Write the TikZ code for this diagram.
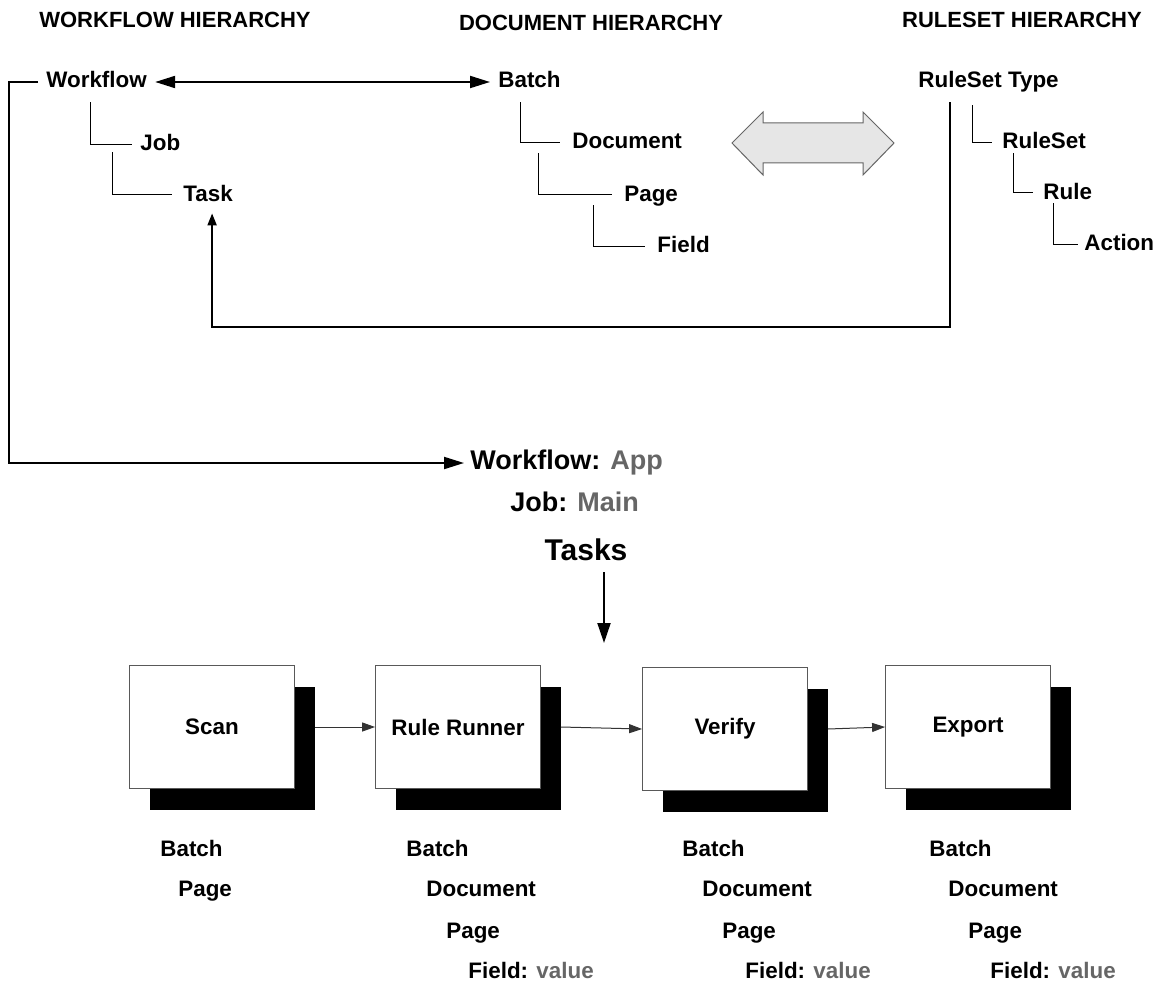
\documentclass[tikz,border=0pt]{standalone}
\usepackage{fontspec}
\setmainfont{Liberation Sans}
\usetikzlibrary{arrows.meta,shadows}
\definecolor{valgray}{HTML}{666666}
\definecolor{arrowfill}{HTML}{E6E6E6}
\newcommand{\val}[1]{\textcolor{valgray}{#1}}

\begin{document}
\begin{tikzpicture}[x=0.5pt,y=-0.5pt,
    head/.style={inner sep=0pt,font=\fontsize{11}{13}\selectfont\bfseries},
    item/.style={anchor=west,inner sep=0pt,text height=8pt,text depth=2pt,
      font=\fontsize{11.2}{13}\selectfont\bfseries},
    big/.style={anchor=west,inner sep=0pt,font=\fontsize{13.5}{16}\selectfont\bfseries},
    tree/.style={line width=0.5pt},
    link/.style={line width=1pt},
    task/.style={draw=black!65,fill=white,minimum width=82.5pt,minimum height=61.5pt,
      inner sep=0pt,font=\fontsize{11.2}{13}\selectfont\bfseries,
      general shadow={fill=black,shadow xshift=10pt,shadow yshift=-10.5pt}},
    flow/.style={line width=0.5pt,draw=black!80,-{Triangle[length=6.5pt,width=4.5pt]}}]
  \useasboundingbox (0,0) rectangle (1165,984);

  % headings
  \node[head] (hwf) at (175,20) {WORKFLOW HIERARCHY};
  \node[head] (hdoc) at (591,23) {DOCUMENT HIERARCHY};
  \node[head] (hrs) at (1022,20) {RULESET HIERARCHY};

  % workflow tree
  \node[item] (wf) at (46,82) {Workflow};
  \node[item] (job) at (140,145) {Job};
  \node[item] (task) at (183,195) {Task};
  \draw[tree] ([xshift=22pt,yshift=-5pt]wf.south west) |- ([xshift=-4pt]job.west);
  \draw[tree] ([xshift=-14pt,yshift=1.5pt]job.south west) |- ([xshift=-5.5pt]task.west);

  % document tree
  \node[item] (batch) at (498,82) {Batch};
  \node[item] (doc) at (572,143) {Document};
  \node[item] (page) at (624,195) {Page};
  \node[item] (field) at (657,246) {Field};
  \draw[tree] ([xshift=11pt,yshift=-5pt]batch.south west) |- ([xshift=-6pt]doc.west);
  \draw[tree] ([xshift=-17pt]doc.south west) |- ([xshift=-6pt]page.west);
  \draw[tree] ([xshift=-15.5pt]page.south west) |- ([xshift=-6pt]field.west);

  % ruleset tree
  \node[item] (rst) at (918,82) {RuleSet Type};
  \node[item] (rs) at (1002,143) {RuleSet};
  \node[item] (rule) at (1043,193) {Rule};
  \node[item] (act) at (1084,244) {Action};
  \draw[tree] ([xshift=27pt,yshift=-6.5pt]rst.south west) |- ([xshift=-5pt]rs.west);
  \draw[tree] ([xshift=5.5pt]rs.south west) |- ([xshift=-5pt]rule.west);
  \draw[tree] ([xshift=5pt]rule.south west) |- ([xshift=-3pt]act.west);

  \draw[link,{Triangle[length=10pt,width=6pt]}-{Triangle[length=10pt,width=6pt]}]
    ([xshift=4pt]wf.east) -- ([xshift=-4pt]batch.west);

  % hierarchies map onto each other
  \draw[black!60,fill=arrowfill,line width=0.5pt]
    (732,143) -- (763,112) -- (763,123) -- (863,123) -- (863,112) -- (894,143)
    -- (863,175) -- (863,163) -- (763,163) -- (763,175) -- cycle;

  \coordinate (rsbend) at (950,327);
  \draw[link,-{Triangle[length=6pt,width=4.5pt]}]
    ([xshift=16pt,yshift=-5pt]rst.south west) |- (rsbend) -| ([xshift=2pt,yshift=-4pt]task.south);

  % running application
  \node[big] (app) at (470,463) {Workflow: \val{App}};
  \node[big] (main) at (510,502) {Job: \val{Main}};
  \node[inner sep=5.5pt,text depth=0pt,font=\fontsize{15}{18}\selectfont\bfseries] (tasks) at (586,550) {Tasks};

  \coordinate (wfbend) at (9,463);
  \draw[link,-{Triangle[length=10pt,width=6pt]}]
    ([xshift=-4pt]wf.west) -| (wfbend) -- ([xshift=-3pt]app.west);

  \coordinate (tasktip) at (604,643);
  \draw[link,-{Triangle[length=10pt,width=6.5pt]}] (tasks.south -| tasktip) -- (tasktip);

  \node[task] (scan) at (212,727) {Scan};
  \node[task] (rr) at (458,727) {Rule Runner};
  \node[task] (ver) at (725,729) {Verify};
  \node[task] (exp) at (968,727) {Export};
  \draw[flow] ([xshift=10pt]scan.east) -- (rr.west);
  \draw[flow] ([xshift=10pt]rr.east) -- (ver.west);
  \draw[flow] ([xshift=10pt]ver.east) -- (exp.west);

  % data each task sees
  \node[item] (sbatch) at (160,850) {Batch};
  \node[item] (spage) at (178,890) {Page};

  \node[item] (rbatch) at (406,850) {Batch};
  \node[item] (rdoc) at (426,890) {Document};
  \node[item] (rpage) at (446,932) {Page};
  \node[item] (rfield) at (468,972) {Field: \val{value}};

  \node[item] (vbatch) at (682,850) {Batch};
  \node[item] (vdoc) at (702,890) {Document};
  \node[item] (vpage) at (722,932) {Page};
  \node[item] (vfield) at (745,972) {Field: \val{value}};

  \node[item] (ebatch) at (929,850) {Batch};
  \node[item] (edoc) at (948,890) {Document};
  \node[item] (epage) at (968,932) {Page};
  \node[item] (efield) at (990,972) {Field: \val{value}};
\end{tikzpicture}
\end{document}
